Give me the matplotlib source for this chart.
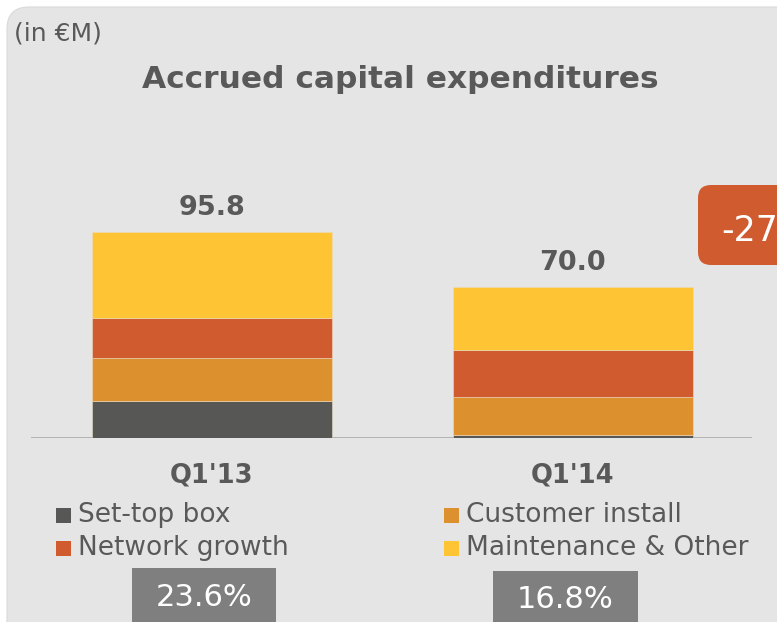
import matplotlib
matplotlib.use("Agg")
import matplotlib.pyplot as plt
from matplotlib.patches import FancyBboxPatch, Rectangle

categories = ["Q1'13", "Q1'14"]
totals = ["95.8", "70.0"]
series_names = ["Set-top box", "Customer install", "Network growth", "Maintenance & Other"]
set_top_box = [17.2, 1.2]
customer_install = [20.0, 17.7]
network_growth = [18.6, 21.9]
maintenance_other = [40.0, 29.2]
percent_labels = ["23.6%", "16.8%"]
change_label = "-27%"

colors = ["#575755", "#dc912e", "#cf5b2e", "#fec434"]
TXT = "#595959"
BG = "#e5e5e5"
FONT = "DejaVu Sans"

W, H = 777, 622
fig = plt.figure(figsize=(W / 100, H / 100), dpi=100)
fig.patch.set_facecolor("white")
T = fig.dpi_scale_trans  # 1 unit = 100 px


def px(x):
    return x / 100


def py(y):
    return (H - y) / 100


def fx(x):
    return x / W


def fy(y):
    return 1 - y / H


# rounded panel
panel = FancyBboxPatch((px(7), py(800)), px(900), px(793),
                       boxstyle="round,pad=0,rounding_size=0.22",
                       transform=T, facecolor=BG, edgecolor="#dadada",
                       linewidth=0.8, zorder=-1)
fig.patches.append(panel)

# axes
x0, x1 = 31, 752
ybase, ytop = 438, 130
ax = fig.add_axes([fx(x0), fy(ybase), fx(x1 - x0), (ybase - ytop) / H])
ax.set_zorder(2)
ax.set_facecolor("none")
scale = 206 / 95.8
ax.set_ylim(0, (ybase - ytop) / scale)
ax.set_xlim(-0.501, 1.496)
for s in ax.spines.values():
    s.set_visible(False)
ax.set_xticks([])
ax.set_yticks([])
ax.axhline(0, color="#a3a3a3", linewidth=1.8, zorder=1)

xs = [0, 1]
bw = 0.665
bottom = [0.0, 0.0]
for vals, c in zip([set_top_box, customer_install, network_growth, maintenance_other], colors):
    ax.bar(xs, vals, bw, bottom=bottom, color=c, edgecolor="#ecdcc0", linewidth=0.4, zorder=2)
    bottom = [b + v for b, v in zip(bottom, vals)]

for x, t, lbl in zip(xs, bottom, totals):
    ax.annotate(lbl, (x, t), xytext=(0, 24), textcoords="offset pixels", ha="center",
                va="center", fontsize=19.5, fontweight="bold", color=TXT, family=FONT)

# category labels
for x, c in zip(xs, categories):
    ax.annotate(c, (x, 0), xytext=(0, -37), textcoords="offset pixels", ha="center",
                va="center", fontsize=18.5, fontweight="bold", color=TXT, family=FONT,
                annotation_clip=False)

# title and unit
fig.text(fx(400), fy(80), "Accrued capital expenditures", ha="center", va="center",
         fontsize=22.5, fontweight="bold", color=TXT, family=FONT)
fig.text(fx(14), fy(33), "(in €M)", ha="left", va="center", fontsize=18, color=TXT,
         family=FONT)

# legend
leg_pos = [(56, 78, 515), (444, 466, 515), (56, 78, 548), (444, 466, 548)]
for (sx, tx, ty), i in zip(leg_pos, [0, 1, 2, 3]):
    fig.patches.append(Rectangle((px(sx), py(ty + 8)), px(15), px(15), transform=T,
                                 facecolor=colors[i], edgecolor="none"))
    fig.text(fx(tx), fy(ty), series_names[i], ha="left", va="center", fontsize=19,
             color=TXT, family=FONT)

# percentage boxes
for (bx0, bx1, by0), lbl in zip([(132, 276, 568), (493, 638, 571)], percent_labels):
    fig.patches.append(Rectangle((px(bx0), py(700)), px(bx1 - bx0), px(700 - by0),
                                 transform=T, facecolor="#7f7f7f", edgecolor="none"))
    fig.text(fx((bx0 + bx1) / 2), fy(by0 + 29), lbl, ha="center", va="center", fontsize=22,
             color="white", family=FONT)

# change callout
call = FancyBboxPatch((px(698), py(265)), px(200), px(80),
                      boxstyle="round,pad=0,rounding_size=0.13",
                      transform=T, facecolor="#cf5b2e", edgecolor="none")
fig.patches.append(call)
fig.text(fx(721), fy(231), change_label, ha="left", va="center", fontsize=25, color="white",
         family=FONT)

fig.savefig("out.png", dpi=100)
